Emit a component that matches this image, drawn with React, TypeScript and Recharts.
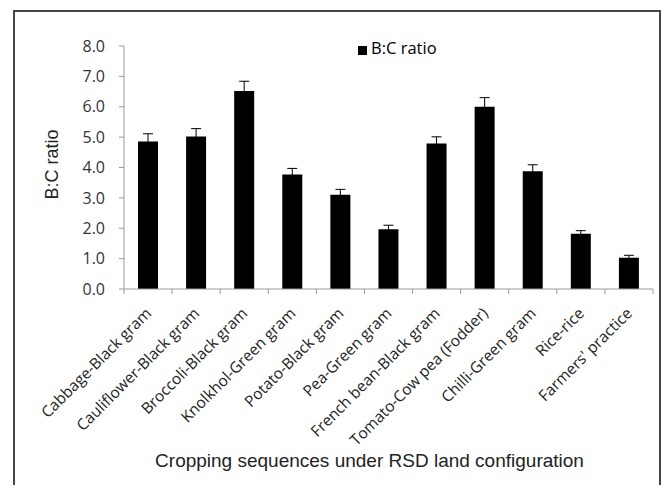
import React from 'react';
import { BarChart, Bar, XAxis, YAxis, ErrorBar, Legend, Label } from 'recharts';

const categories = [
  'Cabbage-Black gram',
  'Cauliflower-Black gram',
  'Broccoli-Black gram',
  'Knolkhol-Green gram',
  'Potato-Black gram',
  'Pea-Green gram',
  'French bean-Black gram',
  'Tomato-Cow pea (Fodder)',
  'Chilli-Green gram',
  'Rice-rice',
  "Farmers' practice",
];
const bcRatio = [4.86, 5.02, 6.52, 3.77, 3.1, 1.97, 4.79, 6.0, 3.88, 1.82, 1.03];
const bcError = [0.25, 0.26, 0.32, 0.2, 0.18, 0.13, 0.22, 0.3, 0.21, 0.1, 0.08];
const yTicks = [0, 1, 2, 3, 4, 5, 6, 7, 8];

const data = categories.map((name, i) => ({ name, value: bcRatio[i], err: bcError[i] }));

const AXIS = '#9a9a9a';
const TICK_FONT = '"Open Sans", sans-serif';

const CategoryTick = (props: any) => {
  const { x, y, payload, width, visibleTicksCount, index } = props;
  const half = width && visibleTicksCount ? width / visibleTicksCount / 2 : 0;
  const ax = x;
  const ay = y + 21;
  return (
    <g>
      {half > 0 && <line x1={x - half} x2={x - half} y1={y} y2={y + 5} stroke={AXIS} />}
      {half > 0 && index === visibleTicksCount - 1 && (
        <line x1={x + half} x2={x + half} y1={y} y2={y + 5} stroke={AXIS} />
      )}
      <text
        x={ax}
        y={ay}
        transform={`rotate(-45, ${ax}, ${ay})`}
        textAnchor="end"
        dominantBaseline="central"
        fontFamily={TICK_FONT}
        fontSize={15.5}
        fill="#222"
      >
        {payload.value}
      </text>
    </g>
  );
};

const YLabel = (props: any) => {
  const { viewBox } = props;
  const cx = viewBox.x + 45;
  const cy = viewBox.y + viewBox.height / 2 - 3;
  return (
    <text
      x={cx}
      y={cy}
      transform={`rotate(-90, ${cx}, ${cy})`}
      textAnchor="middle"
      dominantBaseline="middle"
      fontFamily='"Liberation Sans", Arial, sans-serif'
      fontSize={18}
      fill="#222"
    >
      B:C ratio
    </text>
  );
};

const XLabel = (props: any) => {
  const { viewBox } = props;
  const cx = viewBox.x + viewBox.width / 2 - 19;
  return (
    <text
      x={cx}
      y={viewBox.y + 173}
      textAnchor="middle"
      dominantBaseline="middle"
      fontFamily='"Liberation Sans", Arial, sans-serif'
      fontSize={19}
      fill="#222"
    >
      Cropping sequences under RSD land configuration
    </text>
  );
};

export default function App() {
  return (
    <div style={{ position: 'relative', width: 654, height: 477, overflow: 'hidden' }}>
      <div
        style={{
          position: 'absolute',
          left: 5,
          top: 2,
          width: 648,
          height: 500,
          borderLeft: '2px solid #444',
          borderTop: '2px solid #444',
          borderRight: '2px solid #444',
          boxSizing: 'border-box',
        }}
      />
      <BarChart
        width={654}
        height={477}
        data={data}
        margin={{ top: 15, right: 9, bottom: 0, left: 0 }}
        style={{ position: 'absolute', left: 0, top: 0 }}
      >
        <XAxis
          dataKey="name"
          interval={0}
          tick={<CategoryTick />}
          tickLine={false}
          tickSize={0}
          tickMargin={0}
          axisLine={{ stroke: AXIS }}
          height={196}
        >
          <Label content={<XLabel />} />
        </XAxis>
        <YAxis
          domain={[0, 8]}
          ticks={yTicks}
          width={116}
          tickSize={5}
          tickMargin={14}
          tickLine={{ stroke: AXIS }}
          axisLine={{ stroke: AXIS }}
          tickFormatter={(v: number) => v.toFixed(1)}
          tick={{ fontFamily: TICK_FONT, fontSize: 16, fill: '#333' }}
        >
          <Label content={<YLabel />} />
        </YAxis>
        <Legend
          verticalAlign="top"
          align="left"
          iconType="square"
          iconSize={9}
          width={120}
          wrapperStyle={{ top: 28, left: 350 }}
          formatter={(v: string) => (
            <span style={{ color: '#000', fontFamily: TICK_FONT, fontSize: 16.5 }}>{v}</span>
          )}
        />
        <Bar dataKey="value" name="B:C ratio" fill="#000" barSize={20} isAnimationActive={false}>
          <ErrorBar dataKey="err" width={5} stroke="#000" strokeWidth={1} />
        </Bar>
      </BarChart>
    </div>
  );
}
